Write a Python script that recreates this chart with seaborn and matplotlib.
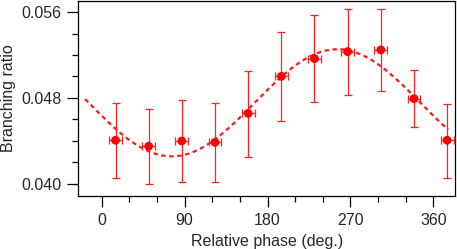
import numpy as np
import pandas as pd
import matplotlib
matplotlib.use("Agg")
import matplotlib.pyplot as plt
import seaborn as sns
from matplotlib.ticker import MultipleLocator, FixedLocator

# Data
phase = [15, 51, 87, 123, 159, 195, 231, 267, 303, 339, 375]
ratio = [0.04405, 0.04349, 0.04398, 0.04386, 0.04656, 0.05001, 0.05166, 0.05231, 0.05247, 0.04793, 0.04405]
err_low = [0.00349, 0.00352, 0.00382, 0.00367, 0.00404, 0.00416, 0.00404, 0.00404, 0.00386, 0.00267, 0.00349]
err_high = [0.00345, 0.00350, 0.00380, 0.00366, 0.00398, 0.00413, 0.00404, 0.00398, 0.00382, 0.00264, 0.00341]
phase_err = [7, 7, 7, 7, 7, 7, 7, 7, 7, 7, 7]

# Fitted sinusoid parameters
fit_offset = 0.04754
fit_amplitude = 0.00499
fit_phase_min = 76.0
fit_range = (-18, 376)

x_ticks = [0, 90, 180, 270, 360]
y_ticks = [0.040, 0.048, 0.056]
y_ticklabels = ["0.040", "0.048", "0.056"]

sns.set_style("ticks")
plt.rcParams['font.family'] = ['Liberation Sans', 'DejaVu Sans']

fig = plt.figure(figsize=(4.57, 2.49), dpi=100)
ax = fig.add_axes([0.1713, 0.214, 0.9956 - 0.1713, 0.996 - 0.214])

df = pd.DataFrame({"phase": phase, "ratio": ratio})
xs = np.linspace(fit_range[0], fit_range[1], 400)
fit_df = pd.DataFrame({"phase": xs,
                       "ratio": fit_offset - fit_amplitude * np.cos(np.radians(xs - fit_phase_min))})

sns.lineplot(data=fit_df, x="phase", y="ratio", ax=ax, color="#ff1a1a", lw=1.6,
             linestyle=(0, (2, 1.6)))
ax.errorbar(df["phase"], df["ratio"], yerr=[err_low, err_high], xerr=phase_err,
            fmt="none", ecolor="#ff2020", elinewidth=0.9, capsize=3, capthick=0.9, zorder=3)
sns.scatterplot(data=df, x="phase", y="ratio", ax=ax, color="#ff0000", s=40,
                edgecolor="none", zorder=4)

ax.set_xlim(-25.4, 383.5)
ax.set_ylim(0.03888, 0.05703)
ax.xaxis.set_major_locator(FixedLocator(x_ticks))
ax.xaxis.set_minor_locator(MultipleLocator(30))
ax.yaxis.set_major_locator(FixedLocator(y_ticks))
ax.set_yticklabels(y_ticklabels)
ax.yaxis.set_minor_locator(MultipleLocator(0.002))

ax.tick_params(axis="both", which="major", direction="out", length=8, width=0.9,
               labelsize=11.5, color="black")
ax.tick_params(axis="x", which="major", pad=4.5)
ax.tick_params(axis="y", which="major", pad=4)
ax.tick_params(axis="both", which="minor", direction="out", length=4, width=0.9, color="black")
for s in ax.spines.values():
    s.set_visible(True)
    s.set_linewidth(0.9)
    s.set_color("black")

ax.set_xlabel("Relative phase (deg.)", fontsize=11.5, labelpad=4)
ax.set_ylabel("Branching ratio", fontsize=11.5, labelpad=4)

fig.savefig("out.png", dpi=100)
